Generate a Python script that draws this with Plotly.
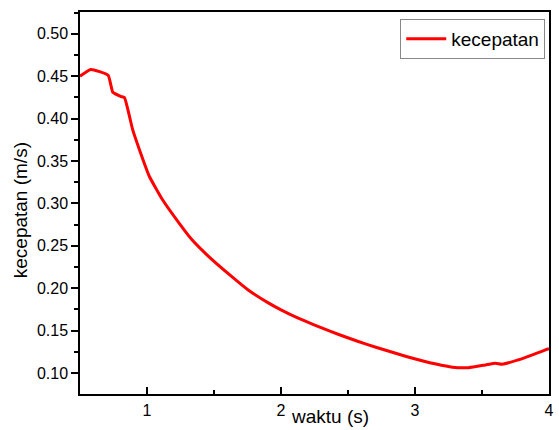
import plotly.graph_objects as go

waktu = [0.50, 0.58, 0.71, 0.745, 0.808, 0.832, 0.893, 0.943, 1.017, 1.115, 1.238,
         1.336, 1.459, 1.631, 1.75, 1.902, 2.0, 2.124, 2.247, 2.37, 2.493, 2.566,
         2.714, 2.935, 3.157, 3.28, 3.40, 3.526, 3.60, 3.65, 3.77, 3.97, 4.0]
kecepatan = [0.450, 0.458, 0.451, 0.431, 0.426, 0.4247, 0.387, 0.3636, 0.332, 0.3045, 0.277,
             0.257, 0.2375, 0.2138, 0.1985, 0.183, 0.1745, 0.165, 0.1568, 0.149, 0.1418, 0.1377,
             0.130, 0.1195, 0.1105, 0.1068, 0.1063, 0.1095, 0.1114, 0.1103, 0.1154, 0.127, 0.1285]

FONT = "Liberation Sans, Arial, sans-serif"

fig = go.Figure()
fig.add_trace(go.Scatter(x=waktu, y=kecepatan, mode="lines", name="kecepatan",
                         line=dict(color="#FF0000", width=3, shape="spline", smoothing=0.4)))

fig.update_layout(
    width=559, height=430,
    margin=dict(l=80, r=5, t=12, b=36),
    plot_bgcolor="white", paper_bgcolor="white",
    font=dict(family=FONT, color="black", size=16),
    showlegend=True,
    legend=dict(x=0.992, y=0.982, xanchor="right", yanchor="top",
                bordercolor="#888888", borderwidth=1, bgcolor="white",
                font=dict(size=19, family=FONT), itemwidth=40,
                tracegroupgap=0),
    xaxis=dict(range=[0.5, 4.0], tick0=0, dtick=1, ticks="inside", ticklen=7, tickwidth=1.5,
               tickcolor="black", showline=True, linecolor="black", linewidth=1.5,
               mirror=True, showgrid=False, zeroline=False, ticklabelstandoff=1,
               minor=dict(ticks="inside", ticklen=4, tickwidth=1.5, dtick=0.5, tick0=0,
                          tickcolor="black", showgrid=False),
               tickfont=dict(size=16)),
    yaxis=dict(range=[0.0752, 0.5257], tick0=0, dtick=0.05, tickformat=".2f", ticks="outside",
               ticklen=7, tickwidth=1.5, tickcolor="black", showline=True, linecolor="black",
               linewidth=1.5, mirror=True, showgrid=False, zeroline=False,
               minor=dict(ticks="outside", ticklen=4, tickwidth=1.5, dtick=0.025, tick0=0,
                          tickcolor="black", showgrid=False),
               tickfont=dict(size=16)),
    annotations=[
        dict(text="waktu (s)", xref="paper", yref="paper", x=0.534, y=-0.06,
             xanchor="center", yanchor="middle", showarrow=False,
             font=dict(size=19, family=FONT)),
        dict(text="kecepatan (m/s)", xref="paper", yref="paper", x=-0.125, y=0.482,
             xanchor="center", yanchor="middle", textangle=-90, showarrow=False,
             font=dict(size=19, family=FONT)),
    ],
)

fig.write_html("out.html", config={"displayModeBar": False},
               post_script="document.body.style.margin='0';document.body.style.overflow='hidden';")
